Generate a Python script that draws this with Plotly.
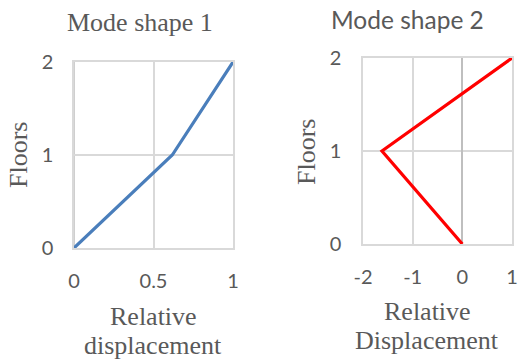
import plotly.graph_objects as go

# Mode shape data: relative displacement per floor
floors = [0, 1, 2]
mode1_disp = [0, 0.618, 1]
mode2_disp = [0, -1.618, 1]

x1_ticks = [0, 0.5, 1]
x1_labels = ["0", "0.5", "1"]
x2_ticks = [-2, -1, 0, 1]
x2_labels = ["-2", "-1", "0", "1"]
y_ticks = [0, 1, 2]

W, H = 518, 360
grid = "#d9d9d9"
axis_dark = "#bfbfbf"
text_col = "#595959"
tick_font = dict(family="Lato, Open Sans, sans-serif", size=20, color=text_col)
serif = "Liberation Serif, Times New Roman, serif"

fig = go.Figure()
fig.add_trace(go.Scatter(x=mode1_disp, y=floors, mode="lines",
                         line=dict(color="#4a7ebb", width=3.2),
                         xaxis="x", yaxis="y", showlegend=False))
fig.add_trace(go.Scatter(x=mode2_disp, y=floors, mode="lines",
                         line=dict(color="#ff0000", width=3.2),
                         xaxis="x2", yaxis="y2", showlegend=False))

def px_x(v):
    return v / W

def px_y(v):
    return 1 - v / H

common = dict(showgrid=True, gridcolor=grid, gridwidth=1.5, ticks="outside",
              tickcolor="rgba(0,0,0,0)", tickfont=tick_font,
              showline=True, mirror=True, linecolor=grid, linewidth=1.5,
              fixedrange=True, automargin=False)

fig.update_layout(
    width=W, height=H,
    margin=dict(l=0, r=0, t=0, b=0),
    paper_bgcolor="white", plot_bgcolor="white",
    xaxis=dict(domain=[px_x(74), px_x(233)], range=[0, 1], tickvals=x1_ticks,
               ticktext=x1_labels, anchor="y", ticklen=14,
               zeroline=False, **common),
    yaxis=dict(domain=[px_y(248), px_y(62)], range=[0, 2], tickvals=y_ticks,
               anchor="x", ticklen=15, zeroline=False, **common),
    xaxis2=dict(domain=[px_x(363), px_x(512)], range=[-2, 1], tickvals=x2_ticks,
                ticktext=x2_labels, anchor="y2", ticklen=14,
                zeroline=True, zerolinecolor=axis_dark, zerolinewidth=1.5, **common),
    yaxis2=dict(domain=[px_y(244), px_y(58)], range=[0, 2], tickvals=y_ticks,
                anchor="x2", ticklen=16, zeroline=False, **common),
)

# vertical axis line at x = 0 of the first panel
fig.add_shape(type="line", xref="x", yref="y", x0=0, x1=0, y0=0, y1=2,
              line=dict(color=axis_dark, width=1.5), layer="below")

ann = [
    dict(text="Mode shape 1", x=px_x(140), y=px_y(22),
         font=dict(family=serif, size=26, color=text_col)),
    dict(text="Mode shape 2", x=px_x(407), y=px_y(19),
         font=dict(family="Lato, Open Sans, sans-serif", size=24.5, color=text_col)),
    dict(text="Floors", x=px_x(18), y=px_y(155), textangle=-90,
         font=dict(family=serif, size=26, color=text_col)),
    dict(text="Floors", x=px_x(306), y=px_y(152), textangle=-90,
         font=dict(family=serif, size=26, color=text_col)),
    dict(text="Relative", x=px_x(153), y=px_y(316),
         font=dict(family=serif, size=26, color=text_col)),
    dict(text="displacement", x=px_x(153), y=px_y(345),
         font=dict(family=serif, size=26, color=text_col)),
    dict(text="Relative", x=px_x(427), y=px_y(311),
         font=dict(family=serif, size=26, color=text_col)),
    dict(text="Displacement", x=px_x(427), y=px_y(340),
         font=dict(family=serif, size=26, color=text_col)),
]
for a in ann:
    fig.add_annotation(xref="paper", yref="paper", showarrow=False,
                       xanchor="center", yanchor="middle", **a)

fig.write_html("out.html")
